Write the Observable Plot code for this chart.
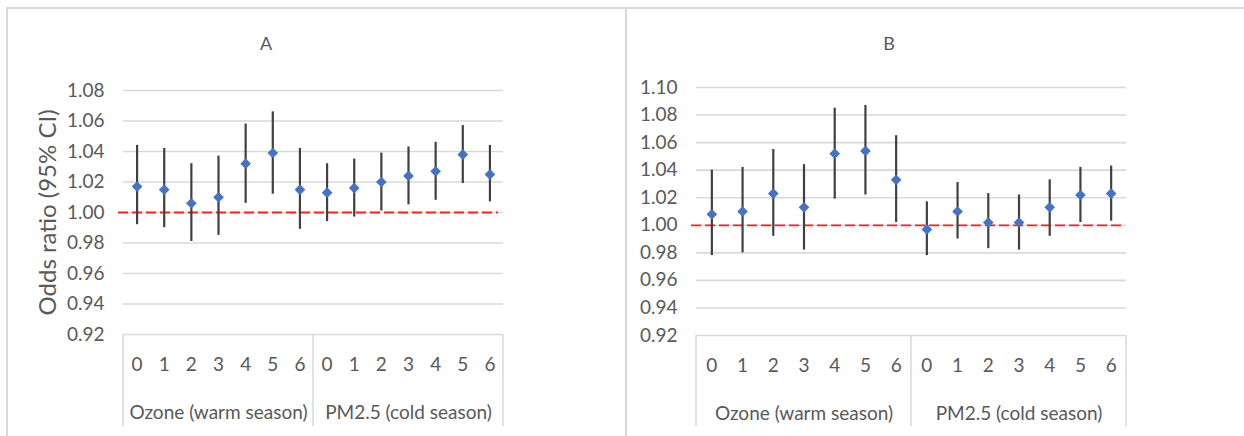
<!DOCTYPE html>
<html>
<head>
<meta charset="utf-8">
<script src="https://cdn.jsdelivr.net/npm/d3@7"></script>
<script src="https://cdn.jsdelivr.net/npm/@observablehq/plot@0.6"></script>
<style>
  html, body { margin: 0; padding: 0; background: #fff; }
  body { width: 1244px; height: 436px; overflow: hidden; position: relative; font-family: Lato, "Open Sans", sans-serif; }
  #wrap { position: absolute; left: 6px; top: 7px; border-top: 2px solid #d9d9d9; display: flex; width: 1238px; }
  .panel { border-left: 2px solid #d9d9d9; width: 617px; height: 427px; position: relative; }
  .ptitle { position: absolute; top: 23px; transform: translateX(-50%); font-size: 18px; color: #595959; }
</style>
</head>
<body>
<div id="wrap">
  <div class="panel" id="pA"><div class="ptitle" style="left:258px">A</div></div>
  <div class="panel" id="pB"><div class="ptitle" style="left:262px">B</div></div>
</div>
<script>
// Categories
const groups = ["Ozone (warm season)", "PM2.5 (cold season)"];
const lags = [0, 1, 2, 3, 4, 5, 6];

// Panel A: odds ratios and 95% CI (Ozone lags 0-6, then PM2.5 lags 0-6)
const orA = [1.017, 1.015, 1.006, 1.010, 1.032, 1.039, 1.015, 1.013, 1.016, 1.020, 1.024, 1.027, 1.038, 1.025];
const loA = [0.992, 0.990, 0.981, 0.985, 1.006, 1.012, 0.989, 0.994, 0.997, 1.001, 1.005, 1.008, 1.019, 1.007];
const hiA = [1.044, 1.042, 1.032, 1.037, 1.058, 1.066, 1.042, 1.032, 1.035, 1.039, 1.043, 1.046, 1.057, 1.044];

// Panel B
const orB = [1.008, 1.010, 1.023, 1.013, 1.052, 1.054, 1.033, 0.997, 1.010, 1.002, 1.002, 1.013, 1.022, 1.023];
const loB = [0.978, 0.980, 0.992, 0.982, 1.019, 1.022, 1.002, 0.978, 0.990, 0.983, 0.982, 0.992, 1.002, 1.003];
const hiB = [1.040, 1.042, 1.055, 1.044, 1.085, 1.087, 1.065, 1.017, 1.031, 1.023, 1.022, 1.033, 1.042, 1.043];

// Axis ticks
const yTicksA = [0.92, 0.94, 0.96, 0.98, 1.00, 1.02, 1.04, 1.06, 1.08];
const yTicksB = [0.92, 0.94, 0.96, 0.98, 1.00, 1.02, 1.04, 1.06, 1.08, 1.10];
const refValue = 1.00;
const yTitle = "Odds ratio (95% CI)";

function rows(or, lo, hi) {
  const out = [];
  groups.forEach((g, gi) => lags.forEach((lag, li) => {
    const i = gi * lags.length + li;
    out.push({idx: i, group: g, lag, or: or[i], lo: lo[i], hi: hi[i]});
  }));
  return out;
}

const n = groups.length * lags.length;
const boundaries = d3.range(0, n + 1, lags.length).map(d => d - 0.5);
const groupCenters = groups.map((g, gi) => ({group: g, idx: gi * lags.length + (lags.length - 1) / 2}));

function dividerMark(values) {
  return (index, scales, channels, dims) => {
    const g = d3.create("svg:g");
    const y0 = dims.height - dims.marginBottom;
    for (const v of values) {
      const x = scales.x(v);
      g.append("line")
        .attr("x1", x).attr("x2", x)
        .attr("y1", y0).attr("y2", dims.height - 10)
        .attr("stroke", "#d9d9d9").attr("stroke-width", 1.5);
    }
    return g.node();
  };
}

function panel({or, lo, hi, yTicks, marginLeft, marginRight, marginTop, marginBottom, showTitle}) {
  const data = rows(or, lo, hi);
  const yDomain = d3.extent(yTicks);
  return Plot.plot({
    width: 617,
    height: 427,
    marginLeft, marginRight, marginTop, marginBottom,
    style: {fontFamily: "Lato, 'Open Sans', sans-serif", fontSize: "19px", color: "#595959", background: "transparent", overflow: "visible"},
    x: {type: "linear", domain: [-0.5, n - 0.5], axis: null},
    y: {domain: yDomain, axis: null},
    marks: [
      Plot.ruleY(yTicks, {stroke: "#d9d9d9", strokeWidth: 1.6}),
      Plot.axisY({ticks: yTicks, tickSize: 0, tickPadding: 19, tickFormat: d3.format(".2f"), label: null, fontSize: 19}),
      Plot.axisX({ticks: d3.range(n), tickSize: 0, tickPadding: 23, tickFormat: i => String(lags[i % lags.length]), label: null, fontSize: 19}),
      Plot.text(groupCenters, {x: "idx", y: () => yDomain[0], text: "group", dy: 78, fontSize: 19, fill: "#595959", lineAnchor: "middle"}),
      dividerMark(boundaries),
      Plot.ruleY([refValue], {stroke: "#ff2020", strokeWidth: 1.8, strokeDasharray: "10,4", insetLeft: -5, insetRight: 5}),
      Plot.ruleX(data, {x: "idx", y1: "lo", y2: "hi", stroke: "#404040", strokeWidth: 2.2}),
      Plot.dot(data, {x: "idx", y: "or", symbol: "diamond2", r: 4.8, fill: "#4472c4", stroke: "none"}),
      showTitle ? Plot.text([yTitle], {frameAnchor: "left", rotate: -90, dx: -75, fontSize: 24, fill: "#595959", textAnchor: "middle", lineAnchor: "middle"}) : null
    ]
  });
}

document.getElementById("pA").append(panel({or: orA, lo: loA, hi: hiA, yTicks: yTicksA, marginLeft: 115, marginRight: 122, marginTop: 81, marginBottom: 102, showTitle: true}));
document.getElementById("pB").append(panel({or: orB, lo: loB, hi: hiB, yTicks: yTicksB, marginLeft: 69, marginRight: 118, marginTop: 78, marginBottom: 101, showTitle: false}));
</script>
</body>
</html>
